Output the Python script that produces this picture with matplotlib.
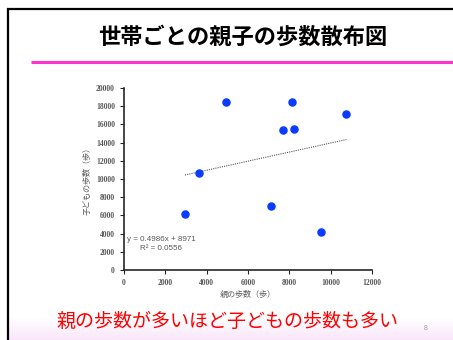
import matplotlib.pyplot as plt
import numpy as np

# steps per day, one point per household
parent_steps = [2950, 3640, 4950, 7100, 7690, 8140, 8210, 9530, 10760]
child_steps = [6150, 10660, 18430, 7000, 15380, 18430, 15460, 4180, 17110]

slope = 0.4986
intercept = 8971
r_squared = 0.0556

x_ticks = [0, 2000, 4000, 6000, 8000, 10000, 12000]
y_ticks = [0, 2000, 4000, 6000, 8000, 10000, 12000, 14000, 16000, 18000, 20000]

title = "世帯ごとの親子の歩数散布図"
x_label = "親の歩数（歩）"
y_label = "子どもの歩数（歩）"
caption = "親の歩数が多いほど子どもの歩数も多い"

JP = ['Noto Sans CJK JP', 'DejaVu Sans']
W, H = 453, 340

fig = plt.figure(figsize=(W / 100, H / 100), dpi=100)

# slide frame, drawn in pixel units
bg = fig.add_axes([0, 0, 1, 1], zorder=0)
bg.set_xlim(0, W)
bg.set_ylim(H, 0)
bg.axis('off')

grad = np.linspace(0, 1, 50).reshape(-1, 1)
top_rgb = np.array([1.0, 1.0, 1.0])
bot_rgb = np.array([0.98, 0.90, 0.98])
img = top_rgb + grad[..., None] * (bot_rgb - top_rgb)
bg.imshow(img, extent=[8, W, H, 318], aspect='auto', zorder=0)

bg.plot([7, W], [8.5, 8.5], color='black', lw=1.6, solid_capstyle='butt')
bg.plot([8, 8], [8, H], color='black', lw=1.6, solid_capstyle='butt')
bg.plot([31, W], [62, 62], color='#ff33cc', lw=2.2, solid_capstyle='butt')

bg.text(243, 37, title, family=JP, fontsize=16, fontweight='bold',
        ha='center', va='center', color='black')
bg.text(227, 321, caption, family=JP, fontsize=13.7,
        ha='center', va='center', color='#ff0000')
bg.text(426, 329, "8", family=['Liberation Sans'], fontsize=5,
        ha='center', va='center', color='#999999')

# scatter chart
ax = fig.add_axes([124 / W, 1 - 270 / H, 248 / W, 182 / H], zorder=1)
ax.patch.set_alpha(0)

ax.scatter(parent_steps, child_steps, s=26, color='#0a3cff', zorder=3)

xs = np.array([min(parent_steps), max(parent_steps)])
ax.plot(xs, slope * xs + intercept, color='#595959', lw=0.8,
        linestyle=(0, (1, 1)), zorder=2)

ax.text(1790, 2910, f"y = {slope}x + {intercept}\nR² = {r_squared}",
        family=['Liberation Sans'], fontsize=5.8, color='#595959',
        ha='center', va='center', multialignment='center', linespacing=1.4)

ax.set_xlim(0, 12000)
ax.set_ylim(0, 20000)
ax.set_xticks(x_ticks)
ax.set_yticks(y_ticks)
for lab in ax.get_xticklabels() + ax.get_yticklabels():
    lab.set_family('Liberation Serif')
    lab.set_fontweight('bold')
    lab.set_fontsize(5.5)
    lab.set_color('#595959')

ax.tick_params(direction='out', length=3, width=0.8, color='#262626', pad=3.5)
for side in ['top', 'right']:
    ax.spines[side].set_visible(False)
for side in ['left', 'bottom']:
    ax.spines[side].set_color('#262626')
    ax.spines[side].set_linewidth(1.2)

ax.set_xlabel(x_label, family=JP, fontsize=5.8, color='#595959', labelpad=2)
ax.set_ylabel(y_label, family=JP, fontsize=5.8, color='#595959', labelpad=3)

fig.savefig('out.png', dpi=100)
